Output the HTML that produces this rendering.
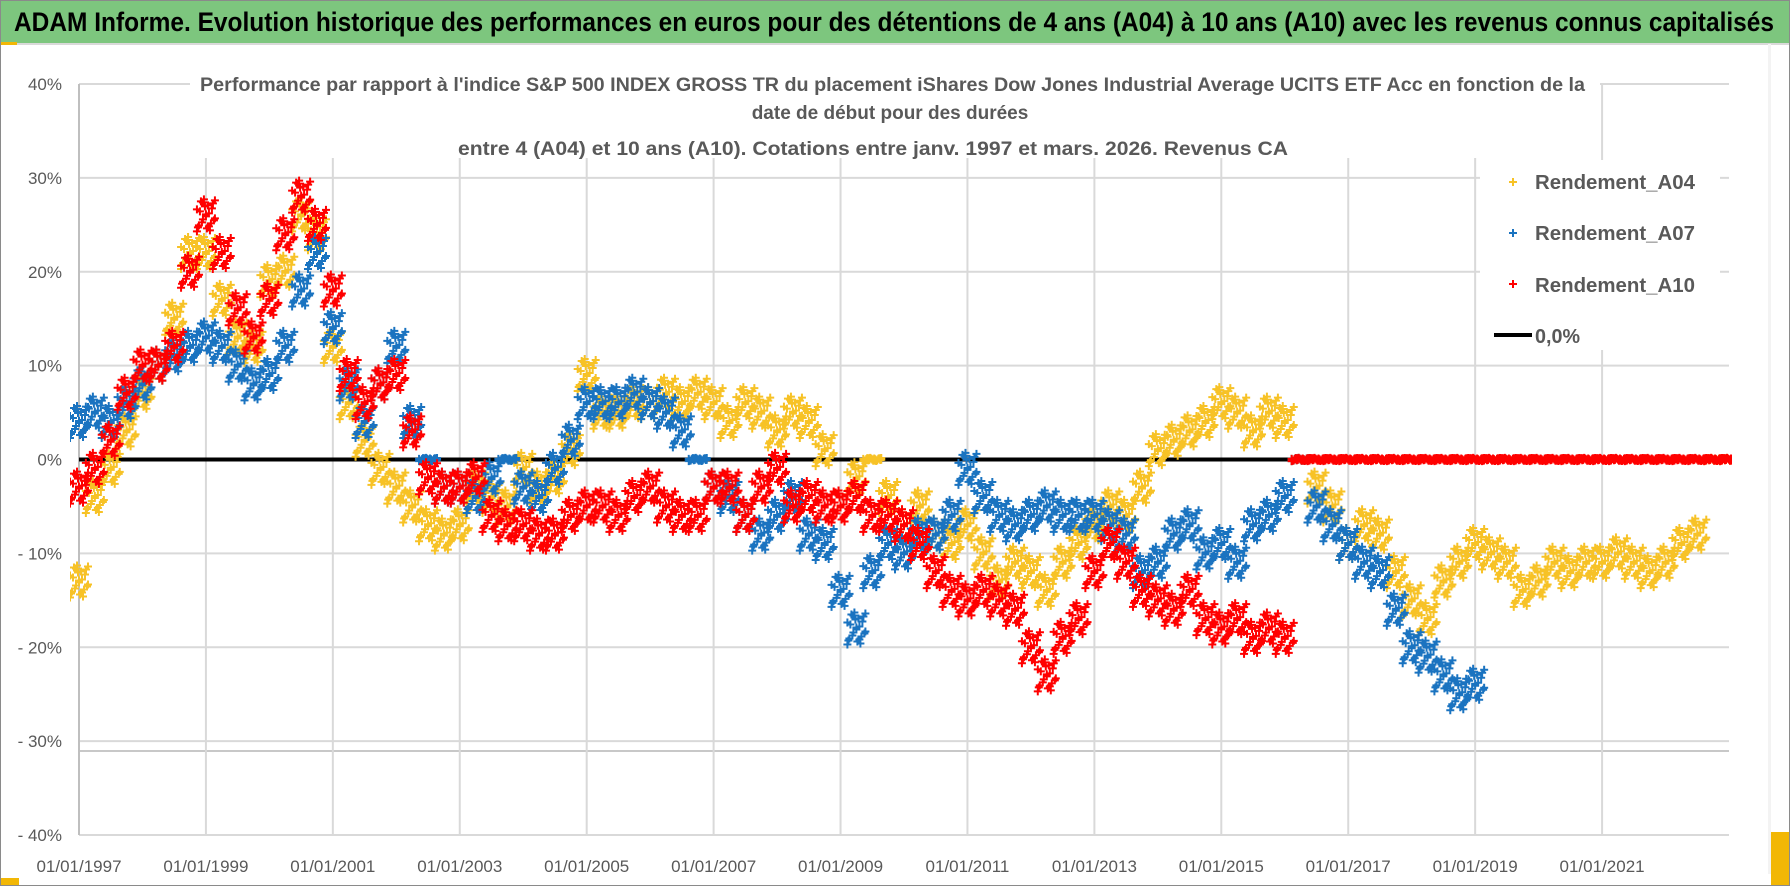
<!DOCTYPE html>
<html><head><meta charset="utf-8"><style>
html,body{margin:0;padding:0;background:#fff;}
svg{display:block;font-family:"Liberation Sans",sans-serif;}
</style></head><body>
<svg id="chart" width="1790" height="886" viewBox="0 0 1790 886" xmlns="http://www.w3.org/2000/svg">
<defs><clipPath id="plotclip"><rect x="70" y="80" width="1662" height="760"/></clipPath></defs>
<rect x="0.5" y="0.5" width="1789" height="885" fill="#fff" stroke="#8a8a8a"/>
<rect x="1" y="1" width="1788" height="42" fill="#7dc67e"/>
<line x1="1" y1="44" x2="1789" y2="44" stroke="#d9d9d9" stroke-width="2"/>
<rect x="1" y="42" width="16" height="3" fill="#f2b705"/>
<rect x="1" y="878" width="18" height="7" fill="#f2b705"/>
<rect x="1771" y="832" width="18" height="53" fill="#f2b705"/>
<rect x="1768" y="44" width="3" height="830" fill="#f3f3f3"/>
<text x="14" y="31" font-size="27" font-weight="bold" fill="#000" textLength="1760" lengthAdjust="spacingAndGlyphs">ADAM Informe. Evolution historique des performances en euros pour des détentions de 4 ans (A04) à 10 ans (A10) avec les revenus connus capitalisés</text>
<g id="grid"></g>
<g id="yticks"></g>
<g id="xticks"></g>
<rect x="190" y="66" width="1410" height="92" fill="#fff"/>
<g font-size="19" font-weight="bold" fill="#595959">
<text x="200" y="91" textLength="1385" lengthAdjust="spacingAndGlyphs">Performance par rapport à l'indice S&amp;P 500 INDEX GROSS TR  du placement iShares Dow Jones Industrial Average UCITS ETF Acc en fonction de la</text>
<text x="890" y="119" text-anchor="middle">date de début pour des durées</text>
<text x="458" y="155" textLength="830" lengthAdjust="spacingAndGlyphs">entre 4 (A04) et 10 ans (A10). Cotations entre janv. 1997 et mars. 2026. Revenus CA</text>
</g>
<line id="zeroline" stroke="#000" stroke-width="4"/>
<g id="marks" clip-path="url(#plotclip)"></g>
<g font-size="20" font-weight="bold" fill="#595959">
<rect x="1480" y="160" width="240" height="190" fill="#fff"/>
<g><path d="M1509 182h8M1513 178v8" stroke="#f7c226" stroke-width="2"/><text x="1535" y="189" textLength="160" lengthAdjust="spacingAndGlyphs">Rendement_A04</text></g>
<g><path d="M1509 233h8M1513 229v8" stroke="#1a73c0" stroke-width="2"/><text x="1535" y="240" textLength="160" lengthAdjust="spacingAndGlyphs">Rendement_A07</text></g>
<g><path d="M1509 284h8M1513 280v8" stroke="#f00" stroke-width="2"/><text x="1535" y="292" textLength="160" lengthAdjust="spacingAndGlyphs">Rendement_A10</text></g>
<g><line x1="1494" y1="335" x2="1532" y2="335" stroke="#000" stroke-width="4"/><text x="1535" y="343" textLength="45" lengthAdjust="spacingAndGlyphs">0,0%</text></g>
</g>
</svg>
<script>
// quarterly data from 1997.00 (percent)
const startYear = 1997;
const a04 = [-13,-4,-1,3,7,10,15,22,22,17,13,12,19,20,26,24,12,6,2,-1,-3,-5,-7,-8,-7,-3,-4,-5,-1,-3,-2,1,9,5,5,6,6,7,6,7,6,4,6,5,3,5,4,1,-5,-2,0,-4,-7,-5,-8,-9,-7,-10,-13,-11,-12,-14,-11,-9,-7,-5,-6,-3,1,2,3,4,6,5,3,5,4,0,-3,-5,-9,-7,-8,-12,-15,-17,-13,-11,-9,-10,-11,-14,-13,-11,-12,-11,-11,-10,-11,-12,-11,-9,-8,0,0];
const a07 = [4,5,4,6,8,10,11,12,13,12,10,8,9,12,18,22,14,8,4,8,12,4,0,-3,-3,-4,-2,0,-3,-4,-1,2,6,6,6,7,6,5,3,0,-3,-4,-6,-8,-6,-4,-8,-9,-14,-18,-12,-9,-10,-8,-8,-6,-1,-4,-6,-7,-6,-5,-6,-6,-6,-7,-8,-12,-11,-8,-7,-10,-9,-11,-7,-6,-4,0,-5,-7,-9,-11,-12,-16,-20,-21,-23,-25,-24];
const a10 = [-3,-1,2,7,10,10,12,20,26,22,16,13,17,24,28,25,18,9,6,8,9,3,-2,-3,-3,-2,-6,-7,-7,-8,-8,-6,-5,-5,-6,-4,-3,-5,-6,-6,-3,-3,-6,-3,-1,-5,-4,-5,-5,-4,-6,-6,-7,-9,-12,-14,-15,-14,-15,-16,-20,-23,-19,-17,-12,-9,-11,-14,-15,-16,-14,-17,-18,-17,-19,-18,-19,0,0,0,0,0,0,0,0,0,0,0,0,0,0,0,0,0,0,0,0,0,0,0,0,0,0,0,0];
const yTicks = [40,30,20,10,0,-10,-20,-30,-40];
const yTickLabels = ["40%","30%","20%","10%","0%","- 10%","- 20%","- 30%","- 40%"];
const xTickYears = [1997,1999,2001,2003,2005,2007,2009,2011,2013,2015,2017,2019,2021];
const xTickLabels = ["01/01/1997","01/01/1999","01/01/2001","01/01/2003","01/01/2005","01/01/2007","01/01/2009","01/01/2011","01/01/2013","01/01/2015","01/01/2017","01/01/2019","01/01/2021"];

const NS = "http://www.w3.org/2000/svg";
const X0 = 79, X1 = 1729, Y40 = 84, Ym40 = 835;
function xs(year){ return X0 + (year - 1997) * (X1 - X0) / 26; }
function ys(v){ return Y40 + (40 - v) * (Ym40 - Y40) / 80; }

const grid = document.getElementById('grid');
yTicks.forEach((v,i)=>{
  const l = document.createElementNS(NS,'line');
  
  
  l.setAttribute('x1',X0); l.setAttribute('x2',X1);
  l.setAttribute('y1',ys(v)); l.setAttribute('y2',ys(v));
  l.setAttribute('stroke','#d9d9d9'); l.setAttribute('stroke-width','2');
  grid.appendChild(l);
  const t = document.createElementNS(NS,'text');
  
  
  t.setAttribute('x',62); t.setAttribute('y',ys(v)+6);
  t.setAttribute('text-anchor','end'); t.setAttribute('font-size','17'); t.setAttribute('fill','#595959');
  t.textContent = yTickLabels[i];
  document.getElementById('yticks').appendChild(t);
});
const extra = document.createElementNS(NS,'line');


extra.setAttribute('x1',X0); extra.setAttribute('x2',X1); extra.setAttribute('y1',751); extra.setAttribute('y2',751);
extra.setAttribute('stroke','#c8c8c8'); extra.setAttribute('stroke-width','2');
grid.appendChild(extra);
xTickYears.forEach((yr,i)=>{
  const l = document.createElementNS(NS,'line');
  
  
  l.setAttribute('x1',xs(yr)); l.setAttribute('x2',xs(yr));
  l.setAttribute('y1',Y40); l.setAttribute('y2',Ym40);
  l.setAttribute('stroke', i===0 ? '#bfbfbf' : '#d9d9d9'); l.setAttribute('stroke-width','2');
  grid.appendChild(l);
  const t = document.createElementNS(NS,'text');
  
  
  t.setAttribute('x',xs(yr)); t.setAttribute('y',872);
  t.setAttribute('text-anchor','middle'); t.setAttribute('font-size','17'); t.setAttribute('fill','#595959');
  t.textContent = xTickLabels[i];
  document.getElementById('xticks').appendChild(t);
});
const zl = document.getElementById('zeroline');
zl.setAttribute('x1',X0); zl.setAttribute('x2',X1); zl.setAttribute('y1',ys(0)); zl.setAttribute('y2',ys(0));

// fixed cluster pattern (pixel offsets for marker density)
const cdx = [-9,-7,-5,-3,-1,1,3,5,7,9,-8,-6,-4,-2,0,2,4,6,8,-9,-3,3,9,0];
const cdy = [-6,10,-14,4,-9,13,-2,8,-12,3,12,-4,7,-16,1,-10,15,-7,5,16,-13,11,-15,-1];
const marks = document.getElementById('marks');
function drawSeries(arr, color, name){
  arr.forEach((v,i)=>{
    if(v===null || v===undefined) return;
    const cx = xs(startYear + i*0.25), cy = ys(v);
    let d = '';
    for(let k=0;k<cdx.length;k++){
      const px = cx + cdx[k], py = cy + (v===0 ? cdy[k]*0.1 : cdy[k]);
      d += 'M'+(px-4)+' '+py+'h8M'+px+' '+(py-4)+'v8';
    }
    const p = document.createElementNS(NS,'path');
    
    
    p.setAttribute('d', d); p.setAttribute('stroke', color); p.setAttribute('stroke-width','2'); p.setAttribute('fill','none');
    marks.appendChild(p);
  });
}
drawSeries(a04,'#f7c226','a04');
drawSeries(a07,'#1a73c0','a07');
drawSeries(a10,'#f00','a10');
</script>
</body></html>
